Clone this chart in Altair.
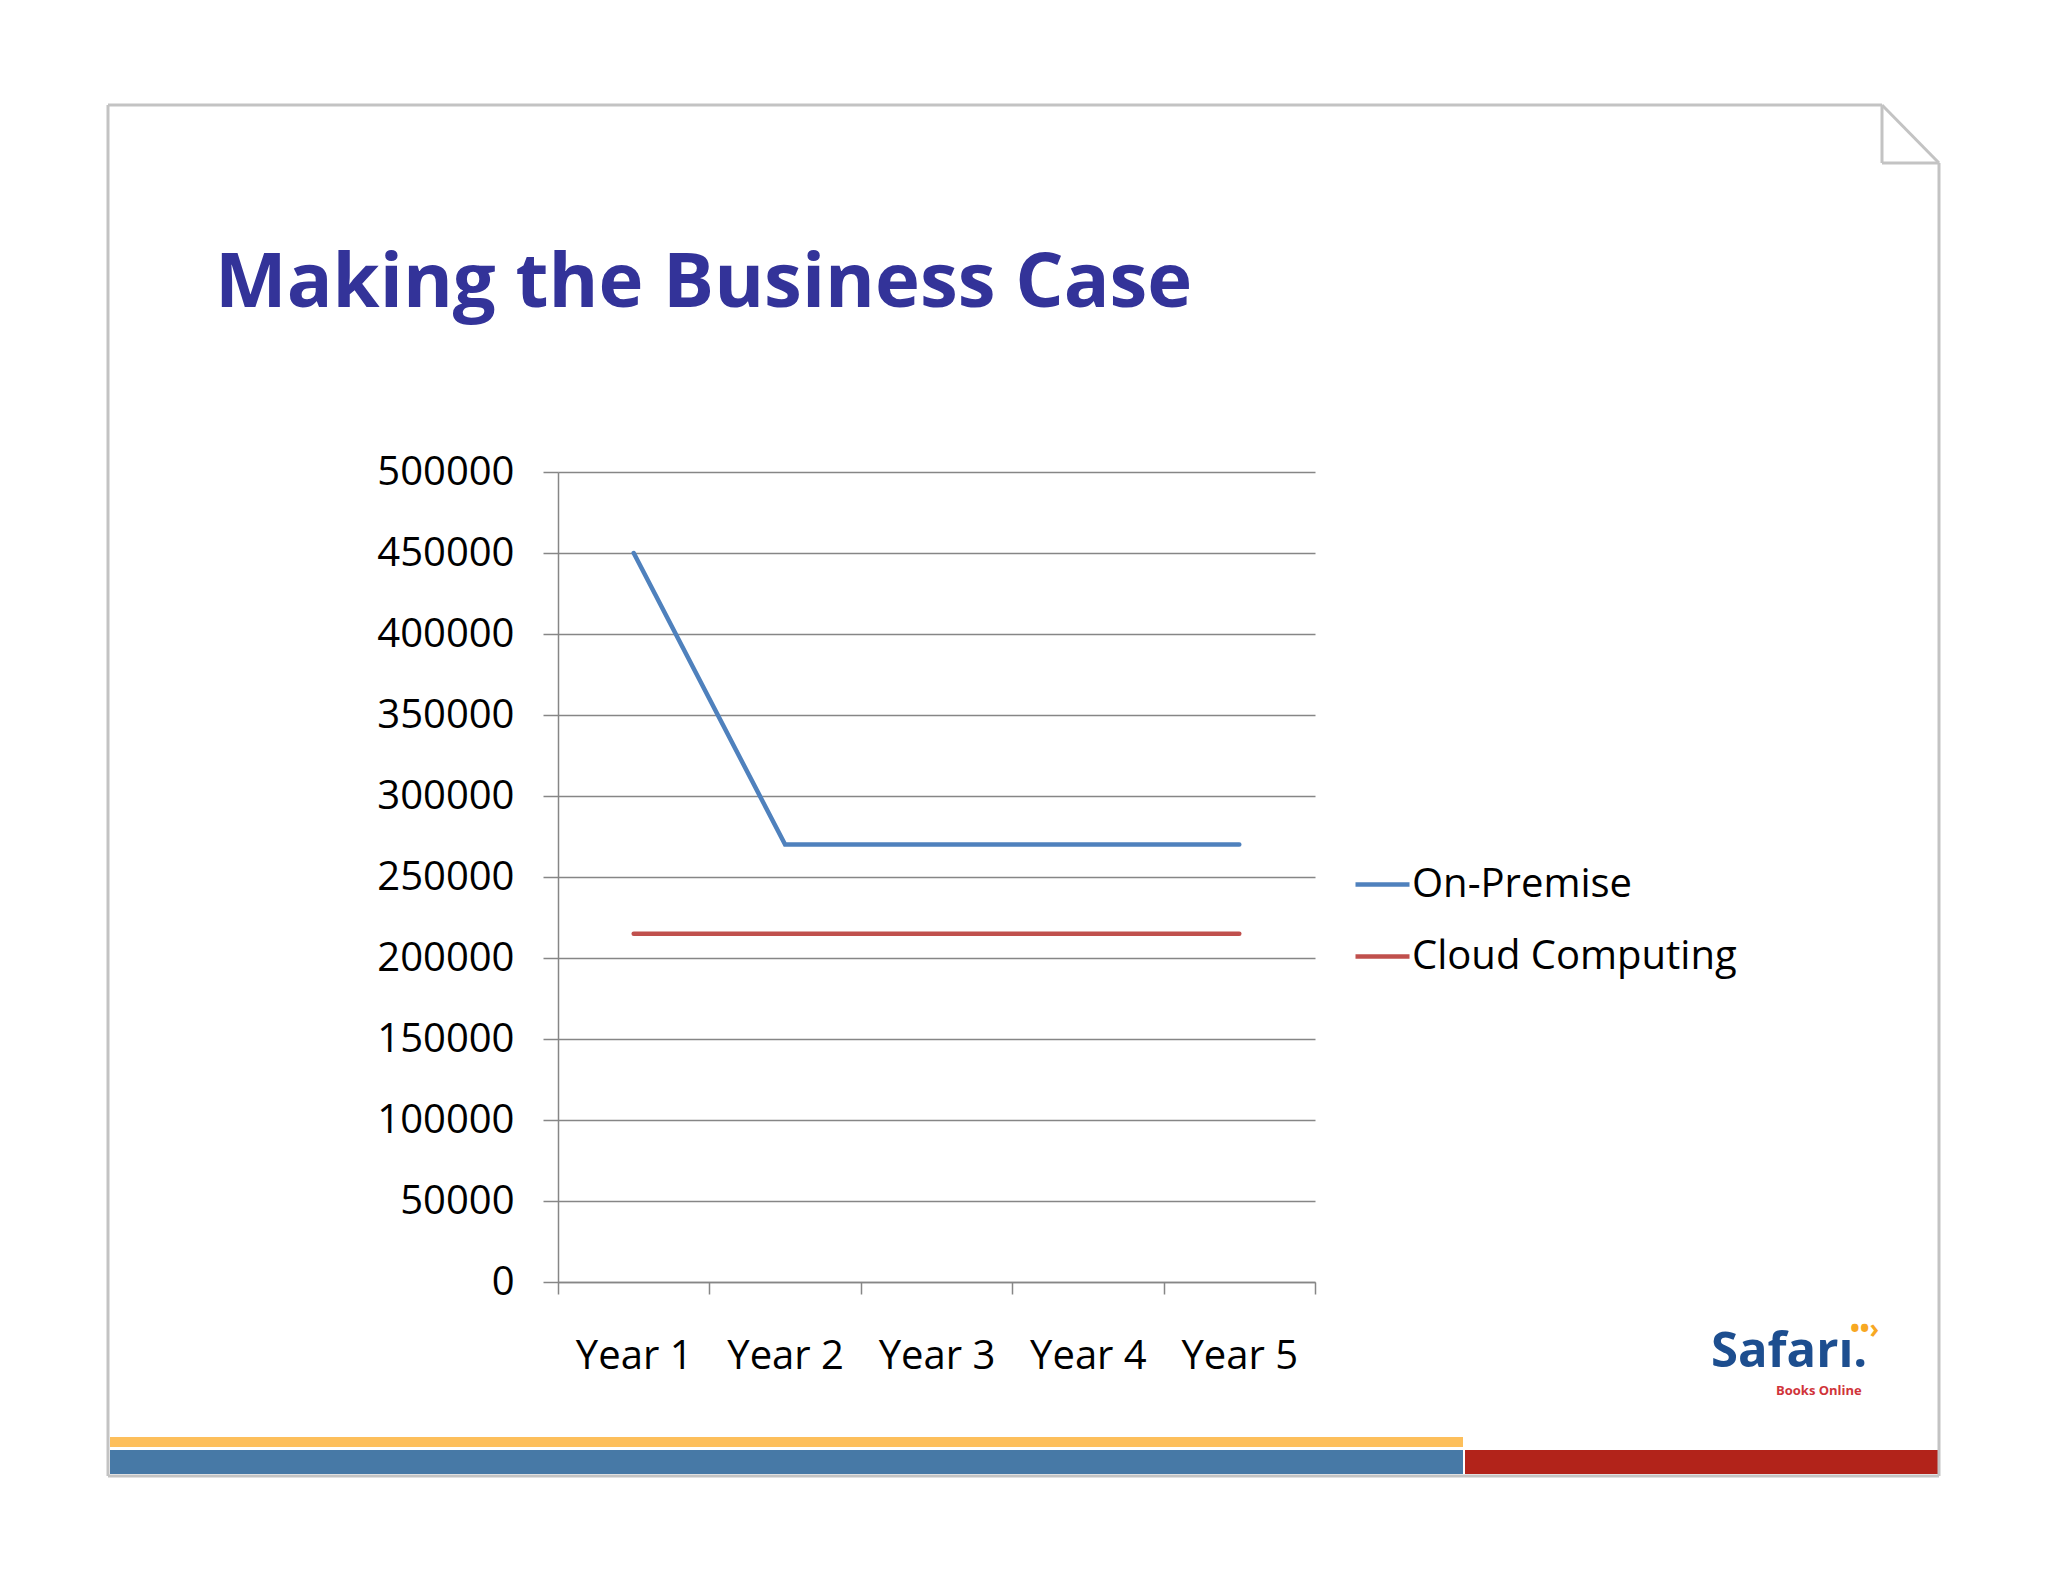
import altair as alt
import pandas as pd

# ---- data ----
years = ["Year 1", "Year 2", "Year 3", "Year 4", "Year 5"]
on_premise = [450000, 270000, 270000, 270000, 270000]
cloud_computing = [215000, 215000, 215000, 215000, 215000]
series_names = ["On-Premise", "Cloud Computing"]
series_colors = ["#4F81BD", "#C0504D"]
y_ticks = [0, 50000, 100000, 150000, 200000, 250000, 300000, 350000, 400000, 450000, 500000]
title_text = "Making the Business Case"
logo_text = "Safar\u0131."
logo_sub = "Books Online"
logo_mark = "\u2022\u2022\u203a"

rows = []
for i, y in enumerate(years):
    rows.append({"year": y, "pos": i + 0.5, "series": series_names[0], "value": on_premise[i]})
for i, y in enumerate(years):
    rows.append({"year": y, "pos": i + 0.5, "series": series_names[1], "value": cloud_computing[i]})
df = pd.DataFrame(rows)

# page-pixel origin of the plot area
OX, OY = 558, 472
W, H = 757, 810
FONT = "Open Sans"
GRAY = "#868686"
one = alt.Data(values=[{}])


def rule(x1, y1, x2, y2, color, width):
    return alt.Chart(one).mark_rule(color=color, strokeWidth=width).encode(
        x=alt.value(x1 - OX), y=alt.value(y1 - OY),
        x2=alt.value(x2 - OX), y2=alt.value(y2 - OY))


def rect(x1, y1, x2, y2, color):
    return alt.Chart(one).mark_rect(color=color).encode(
        x=alt.value(x1 - OX), y=alt.value(y1 - OY),
        x2=alt.value(x2 - OX), y2=alt.value(y2 - OY))


def text(t, x, y, size, color, weight="normal"):
    return alt.Chart(one).mark_text(
        align="left", baseline="alphabetic", font=FONT, fontSize=size,
        fontWeight=weight, color=color).encode(
        x=alt.value(x - OX), y=alt.value(y - OY), text=alt.value(t))


FRAME = "#C3C3C3"
decor = [
    # bottom bars
    rect(110, 1437, 1463, 1447, "#FDBF5B"),
    rect(110, 1450, 1463, 1474, "#4779A6"),
    rect(1465, 1450, 1938, 1474, "#B2231A"),
    # slide frame with folded corner
    rule(108, 105, 1882, 105, FRAME, 3),
    rule(1882, 105, 1939, 163, FRAME, 3),
    rule(1939, 163, 1939, 1476, FRAME, 3),
    rule(108, 1476, 1939, 1476, FRAME, 3),
    rule(108, 105, 108, 1476, FRAME, 3),
    rule(1882, 105, 1882, 163, FRAME, 3),
    rule(1882, 163, 1939, 163, FRAME, 3),
    # title
    text(title_text, 215, 307, 76, "#333399", "bold"),
    # logo
    text(logo_text, 1711, 1367, 49, "#1D4E8F", "bold"),
    text(logo_sub, 1776, 1395, 13, "#D0343A", "bold"),
    text(logo_mark, 1850, 1338, 26, "#F7A823", "bold"),
]

lines = alt.Chart(df).mark_line(strokeWidth=4.5, strokeCap="round").encode(
    x=alt.X("pos:Q", title=None,
            scale=alt.Scale(domain=[0, len(years)], nice=False, zero=False),
            axis=alt.Axis(
                values=[i * 0.5 for i in range(2 * len(years) + 1)],
                labelExpr="datum.value % 1 == 0 ? '' : " + str(years) + "[floor(datum.value)]",
                tickOpacity={"condition": {"test": "datum.value % 1 != 0", "value": 0}, "value": 1},
                grid=False, tickSize=12, labelPadding=42, labelAngle=0,
                labelFlush=False, labelOverlap=False)),
    y=alt.Y("value:Q", title=None,
            scale=alt.Scale(domain=[0, 500000], nice=False),
            axis=alt.Axis(values=y_ticks, format="d", grid=True, tickSize=15,
                          labelPadding=29)),
    color=alt.Color("series:N", sort=series_names,
                    scale=alt.Scale(domain=series_names, range=series_colors),
                    legend=alt.Legend(title=None, orient="none", legendX=795, legendY=383,
                                      symbolType="stroke", symbolSize=2916,
                                      symbolStrokeWidth=4.5, labelOffset=0, labelLimit=600,
                                      labelFont=FONT, labelFontSize=40, labelColor="#000000",
                                      rowPadding=22, padding=0)),
    detail="series:N",
)

chart = alt.layer(*decor, lines).properties(
    width=W, height=H,
    padding={"left": OX - 8, "top": OY - 8, "right": 2040 - OX - W, "bottom": 1574 - OY - H},
    autosize=alt.AutoSizeParams(type="none"),
    background="#FFFFFF",
).configure_view(stroke="transparent").configure_axis(
    labelFont=FONT, labelFontSize=40, labelColor="#000000",
    domainColor=GRAY, tickColor=GRAY, gridColor=GRAY,
    domainWidth=1.5, tickWidth=1.5, gridWidth=1.5,
)

chart.save("out.html", embed_options={"renderer": "svg", "actions": False})
